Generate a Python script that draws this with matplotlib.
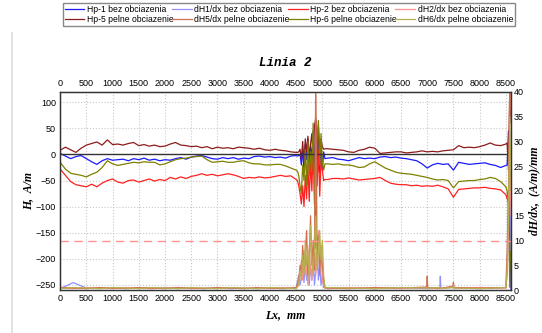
import numpy as np
import matplotlib
matplotlib.use('Agg')
import matplotlib.pyplot as plt
from matplotlib.lines import Line2D

# measurement positions along the line, mm
lx_a = np.arange(0, 4501, 100)
lx_b = np.arange(4525, 5051, 25)
lx_c = np.arange(5100, 8501, 100)
lx_d = np.arange(8525, 8601, 25)
lx = np.concatenate([lx_a, lx_b, lx_c, lx_d])

# magnetic field H, A/m
hp1_bez = [2, -3, -8, -4, -2, -8, -14, -19, -12, -8, -11, -10, -9, -12, -8, -10, -7, -11, -9, -12,
           -10, -11, -8, -6, -9, -5, -3, -2, -5, -8, -9, -6, -8, -6, -9, -7, -8, -4, -3, -5,
           -4, -6, -5, -7, -3, -2,
           -3, -2, 0, -20, 10, -30, 20, -10, 30, -25, 15, -5, 45, -40, 65, -20, 55, -35, 25, -30, 5, -8,
           -7, -6, -9, -10, -12, -9, -6, -8, -7, -8, -5, -4, -6, -5, -7, -8, -10, -12, -18, -26,
           -20, -17, -19, -18, -30, -15, -17, -19, -18, -17, -16, -19, -21, -25, -21,
           -20, 45, -150, -262]
hp2_bez = [-28, -40, -52, -58, -60, -62, -57, -62, -55, -50, -47, -53, -55, -50, -49, -53, -50, -47, -51, -48,
           -50, -44, -47, -43, -46, -42, -40, -37, -40, -38, -41, -39, -37, -39, -42, -46, -44, -45, -43, -45,
           -44, -42, -40, -42, -41, -48,
           -50, -60, -75, -95, -60, -100, -40, -85, -20, -90, -10, -70, 20, -95, 40, -60, 10, -80, -10, -30, -50, -48,
           -48, -46, -46, -47, -45, -47, -49, -48, -47, -46, -44, -50, -55, -57, -58, -58, -60, -59, -61, -60,
           -61, -59, -62, -66, -82, -67, -66, -65, -64, -64, -63, -65, -66, -68, -77,
           -85, -90, -140, -200]
hp5_pelne = [8, 14, 9, 4, 12, 18, 21, 24, 18, 28, 19, 20, 18, 21, 23, 17, 19, 16, 18, 15,
             16, 20, 23, 18, 17, 15, 16, 13, 15, 11, 14, 12, 13, 11, 14, 13, 12, 10, 12, 9,
             8, 10, 8, 7, 5, 4,
             4, 5, 10, -10, 25, -15, 30, 5, 35, -5, 20, 40, -10, 55, 70, 0, 50, -5, 30, 15, 10, 11,
             11, 10, 9, 8, 5, 4, 8, 10, 14, 12, 2, 3, 4, 5, 5, 3, 4, 5, 7, 5,
             6, 5, 7, 8, 9, 17, 13, 14, 13, 15, 18, 22, 18, 17, 20,
             22, -30, 125, 60]
hp6_pelne = [-15, -28, -36, -38, -40, -43, -38, -34, -25, -12, -18, -21, -19, -17, -15, -16, -14, -15, -15, -20,
             -18, -14, -10, -8, -7, -5, -4, -3, -10, -15, -14, -13, -15, -15, -13, -12, -16, -18, -18, -20,
             -20, -19, -19, -22, -26, -30,
             -32, -40, -60, -75, -20, -50, 10, -60, 25, -40, 5, -30, 60, -70, -180, 30, 65, -20, 40, -15, -30, -18,
             -18, -19, -18, -20, -20, -22, -25, -24, -18, -14, -20, -26, -30, -34, -36, -37, -38, -40, -42, -44,
             -47, -49, -48, -50, -64, -52, -51, -50, -50, -48, -47, -44, -46, -52, -62,
             -70, -100, -255, -120]

# gradient dH/dx, (A/m)/mm
dh_lx = [0, 250, 500, 750, 1000, 1250, 1500, 1750, 2000, 2250, 2500, 2750, 3000, 3250, 3500, 3750,
         4000, 4250, 4500, 4550, 4575, 4600, 4625, 4650, 4675, 4700, 4725, 4750, 4775, 4800, 4825,
         4850, 4875, 4900, 4925, 4950, 4975, 5000, 5025, 5050, 5100, 5500, 6000, 6500, 6990, 7000,
         7010, 7240, 7250, 7260, 7490, 7500, 7510, 8000, 8500, 8525, 8550, 8575, 8600]
dh1_bez = [0.3, 1.5, 0.4, 0.3, 0.5, 0.3, 0.4, 0.3, 0.5, 0.3, 0.4, 0.3, 0.5, 0.3, 0.4, 0.3, 0.4, 0.3, 0.4,
           3.0, 1.0, 2.5, 4, 1.5, 6, 2, 3, 1, 5, 2, 7, 1, 4, 9, 2, 5, 1, 3, 0.5, 0.4,
           0.3, 0.4, 0.3, 0.5, 0.3, 0.6, 0.3, 0.4, 2.8, 0.4, 0.5, 1.0, 0.4, 0.3, 0.5,
           3, 18, 30, 8]
dh2_bez = [0.4, 0.3, 0.5, 0.4, 0.3, 0.5, 0.4, 0.3, 0.4, 0.5, 0.3, 0.4, 0.3, 0.5, 0.4, 0.3, 0.4, 0.5, 0.3,
           1, 3, 6, 2, 8, 3, 5, 1, 9, 4, 2, 6, 11, 3, 7, 12, 4, 8, 2, 1, 0.4,
           0.3, 0.5, 0.3, 0.4, 0.5, 0.6, 0.4, 0.3, 0.5, 0.4, 0.6, 1.2, 0.4, 0.5, 0.4,
           5, 12, 25, 15]
dh5_pelne = [0.5, 0.4, 0.3, 0.5, 0.4, 0.3, 0.5, 0.4, 0.3, 0.5, 0.4, 0.3, 0.5, 0.4, 0.3, 0.5, 0.4, 0.3, 0.5,
             2, 5, 3, 9, 4, 7, 12, 3, 6, 15, 5, 10, 4, 44, 6, 11, 3, 9, 5, 2, 0.5,
             0.4, 0.3, 0.5, 0.4, 0.6, 2.8, 0.5, 0.4, 0.5, 0.3, 0.8, 1.6, 0.5, 0.4, 0.5,
             8, 20, 42, 35]
dh6_pelne = [0.3, 0.5, 0.4, 0.3, 0.5, 0.4, 0.3, 0.5, 0.4, 0.3, 0.5, 0.4, 0.3, 0.5, 0.4, 0.3, 0.5, 0.4, 0.3,
             1, 4, 2, 7, 3, 10, 5, 8, 2, 13, 6, 3, 9, 15, 4, 8, 12, 6, 10, 3, 0.4,
             0.5, 0.4, 0.3, 0.5, 0.4, 0.5, 0.4, 0.5, 0.4, 0.3, 0.5, 1.0, 0.4, 0.3, 0.5,
             4, 15, 35, 20]

dh_threshold = 10

plt.rcParams['font.family'] = ['Liberation Sans', 'DejaVu Sans']
lab_font = dict(family='Liberation Serif', weight='bold', style='italic', size=8.5)

fig = plt.figure(figsize=(5.42, 3.33), dpi=100)
ax = fig.add_axes([0.111, 0.129, 0.832, 0.595])
ax2 = ax.twinx()

ax.plot(lx, hp1_bez, color='#1a1aff', lw=0.9, label='Hp-1 bez obciazenia')
ax.plot(lx, hp2_bez, color='#ff2020', lw=0.9, label='Hp-2 bez obciazenia')
ax.plot(lx, hp5_pelne, color='#8b1c1c', lw=0.9, label='Hp-5 pelne obciazenie')
ax.plot(lx, hp6_pelne, color='#808000', lw=0.9, label='Hp-6 pelne obciazenie')
ax.axhline(0, color='#333333', lw=1.0)

ax2.plot(dh_lx, dh1_bez, color='#9090ff', lw=0.9, label='dH1/dx bez obciazenia')
ax2.plot(dh_lx, dh2_bez, color='#ff9090', lw=0.9, label='dH2/dx bez obciazenia')
ax2.plot(dh_lx, dh5_pelne, color='#d07050', lw=0.9, label='dH5/dx pelne obciazenie')
ax2.plot(dh_lx, dh6_pelne, color='#b8b050', lw=0.9, label='dH6/dx pelne obciazenie')
ax2.axhline(dh_threshold, color='#ff9090', lw=1.0, ls=(0, (6, 4)))

ax.set_xlim(0, 8600)
ax.set_ylim(-260, 120)
ax2.set_ylim(0, 40)
ax.set_xticks(np.arange(0, 8501, 500))
ax.set_yticks(np.arange(-250, 101, 50))
ax2.set_yticks(np.arange(0, 41, 5))
ax.grid(True, color='#c8c8c8', ls=':', lw=0.8)
ax.tick_params(labelsize=6.5, length=0, pad=3, top=True, labeltop=True)
ax2.tick_params(labelsize=6.5, length=0, pad=2)
for a in (ax, ax2):
    for s in a.spines.values():
        s.set_color('#333333')
        s.set_linewidth(0.9)

ax.set_xlabel('Lx,  mm', fontdict=lab_font, labelpad=4)
ax.set_ylabel('H,  A/m', fontdict=lab_font, labelpad=1)
ax2.set_ylabel('dH/dx,  (A/m)/mm', fontdict=lab_font, labelpad=3)
ax.set_title('Linia 2', family='Liberation Mono', weight='bold', style='italic', size=9, pad=9)

h1, l1 = ax.get_legend_handles_labels()
h2, l2 = ax2.get_legend_handles_labels()
order = [(h1[0], l1[0]), (h1[2], l1[2]), (h2[0], l2[0]), (h2[2], l2[2]),
         (h1[1], l1[1]), (h1[3], l1[3]), (h2[1], l2[1]), (h2[3], l2[3])]
leg_handles = [Line2D([], [], color=o[0].get_color(), lw=0.9) for o in order]
fig.legend(leg_handles, [o[1] for o in order], ncol=4, loc='upper left',
           bbox_to_anchor=(0.116, 0.99, 0.834, 0.0), mode='expand', fontsize=6.2,
           handlelength=2.3, handletextpad=0.3, columnspacing=0.6, borderpad=0.2,
           borderaxespad=0, labelspacing=0.1, fancybox=False, edgecolor='#888888', framealpha=1)

fig.add_artist(Line2D([0.022, 0.022], [0.0, 0.9], color='#dddddd', lw=1.2))

fig.savefig('out.png', dpi=100)
